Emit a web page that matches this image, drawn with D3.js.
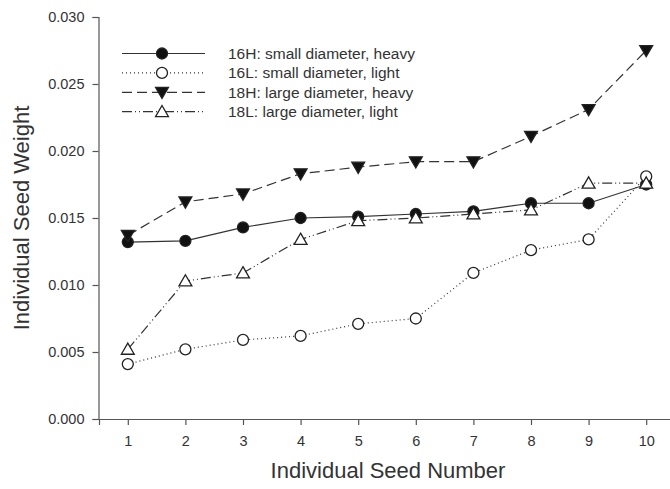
<!DOCTYPE html>
<html>
<head>
<meta charset="utf-8">
<script src="https://cdn.jsdelivr.net/npm/d3@7"></script>
<style>
  html, body { margin: 0; padding: 0; background: #fff; }
  svg { display: block; }
  text { font-family: "Liberation Sans", Arial, sans-serif; fill: #333; }
</style>
</head>
<body>
<svg id="chart" width="670" height="489"></svg>
<script>
// ---- Data ----
const seedNumbers = [1, 2, 3, 4, 5, 6, 7, 8, 9, 10];
const s16H = [0.0132, 0.0133, 0.0143, 0.0150, 0.0151, 0.0153, 0.0155, 0.0161, 0.0161, 0.0175];
const s16L = [0.0041, 0.0052, 0.0059, 0.0062, 0.0071, 0.0075, 0.0109, 0.0126, 0.0134, 0.0181];
const s18H = [0.0137, 0.0162, 0.0168, 0.0183, 0.0188, 0.0192, 0.0192, 0.0211, 0.0231, 0.0275];
const s18L = [0.0052, 0.0103, 0.0109, 0.0134, 0.0148, 0.0150, 0.0153, 0.0156, 0.0176, 0.0176];
const seriesNames = ["16H: small diameter, heavy", "16L: small diameter, light", "18H: large diameter, heavy", "18L: large diameter, light"];
const yTicks = [0, 0.005, 0.010, 0.015, 0.020, 0.025, 0.030];
const xTitle = "Individual Seed Number";
const yTitle = "Individual Seed Weight";

const series = [
  { name: seriesNames[0], values: s16H, marker: "circle", fill: "#111", dash: null },
  { name: seriesNames[1], values: s16L, marker: "circle", fill: "#fff", dash: "1,3" },
  { name: seriesNames[2], values: s18H, marker: "down", fill: "#111", dash: "10,5" },
  { name: seriesNames[3], values: s18L, marker: "up", fill: "#fff", dash: "10,3,1,3,1,3" }
];

const svg = d3.select("#chart");
const axisColor = "#555";
const lineColor = "#333";

const x = d3.scaleLinear().domain([0.5, 10.5]).range([99, 675]);
const y = d3.scaleLinear().domain([0, 0.030]).range([419, 17]);

// Axes
const xAxis = svg.append("g").attr("transform", "translate(0,419)")
  .call(d3.axisBottom(x).tickValues(seedNumbers).tickFormat(d3.format("d")).tickSizeOuter(0).tickSize(6).tickPadding(11));
const yAxis = svg.append("g").attr("transform", "translate(98.5,0)")
  .call(d3.axisLeft(y).tickValues(yTicks).tickFormat(d3.format(".3f")).tickSizeOuter(0).tickSize(6).tickPadding(8));
[xAxis, yAxis].forEach(g => {
  g.selectAll("path, line").attr("stroke", axisColor).attr("stroke-width", 1.2);
  g.selectAll("text").attr("font-size", 14.5).attr("fill", "#333").style("font-family", '"Liberation Sans", Arial, sans-serif');
});

// Titles
svg.append("text").attr("x", 388).attr("y", 478).attr("text-anchor", "middle")
  .attr("font-size", 22).text(xTitle);
svg.append("text").attr("transform", "translate(29,218) rotate(-90)").attr("text-anchor", "middle")
  .attr("font-size", 22).text(yTitle);

const sym = {
  circle: d3.symbol().type(d3.symbolCircle).size(Math.PI * 5.5 * 5.5),
  up: d3.symbol().type(d3.symbolTriangle).size(72),
};
function markerPath(kind) {
  if (kind === "circle") return sym.circle();
  return sym.up();
}
function addMarker(g, kind, fill, cx, cy) {
  const p = g.append("path").attr("d", markerPath(kind))
    .attr("fill", fill).attr("stroke", "#222").attr("stroke-width", 1.3);
  const rot = kind === "down" ? 180 : 0;
  const dy = kind === "circle" ? 0 : (kind === "down" ? -1.2 : 1.2);
  p.attr("transform", `translate(${cx},${cy + dy}) rotate(${rot})`);
}

const line = d3.line().x((d, i) => x(seedNumbers[i])).y(d => y(d));

series.forEach(s => {
  const g = svg.append("g");
  g.append("path").datum(s.values).attr("d", line)
    .attr("fill", "none").attr("stroke", lineColor).attr("stroke-width", 1.2)
    .attr("stroke-dasharray", s.dash);
  s.values.forEach((v, i) => addMarker(g, s.marker, s.fill, x(seedNumbers[i]), y(v)));
});

// Legend
const legend = svg.append("g");
series.forEach((s, i) => {
  const ly = 53.5 + i * 19.4;
  legend.append("line").attr("x1", 122).attr("x2", 205).attr("y1", ly).attr("y2", ly)
    .attr("stroke", lineColor).attr("stroke-width", 1.2).attr("stroke-dasharray", s.dash);
  addMarker(legend, s.marker, s.fill, 162, ly);
  legend.append("text").attr("x", 228).attr("y", ly).attr("dy", "0.35em")
    .attr("font-size", 15.5).text(s.name);
});
</script>
</body>
</html>
